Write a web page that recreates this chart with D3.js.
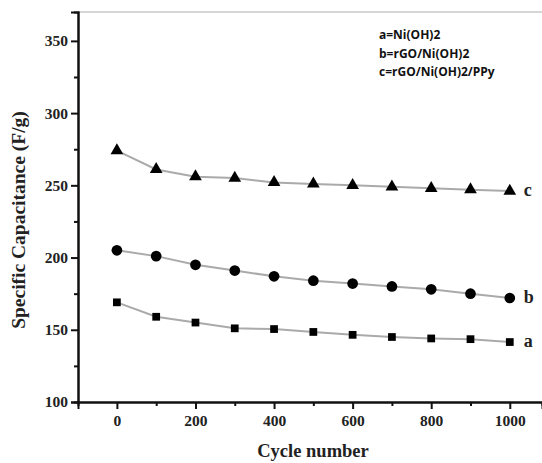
<!DOCTYPE html>
<html>
<head>
<meta charset="utf-8">
<script src="https://cdn.jsdelivr.net/npm/d3@7"></script>
<style>
  body { margin: 0; background: #fff; }
  svg { display: block; }
</style>
</head>
<body>
<div id="graph"></div>
<script>
// data
const cycles = [0, 100, 200, 300, 400, 500, 600, 700, 800, 900, 1000]
const seriesA = [169, 159, 155, 151, 150.5, 148.5, 146.5, 145, 144, 143.5, 141.5]
const seriesB = [205, 201, 195, 191, 187, 184, 182, 180, 178, 175, 172]
const seriesC = [274, 261, 256, 255, 252, 251, 250, 249, 248, 247, 246]
const seriesNames = ["a", "b", "c"]
const legendLines = ["a=Ni(OH)2", "b=rGO/Ni(OH)2", "c=rGO/Ni(OH)2/PPy"]
const xTicks = [0, 200, 400, 600, 800, 1000]
const yTicks = [100, 150, 200, 250, 300, 350]

const width = 542, height = 463
const margin = { left: 78, right: 0, top: 12, bottom: 61 }

const svg = d3.select("#graph").append("svg")
  .attr("width", width)
  .attr("height", height)

const x = d3.scaleLinear().domain([-99, 1082]).range([margin.left, width - margin.right])
const y = d3.scaleLinear().domain([100, 370]).range([height - margin.bottom, margin.top])

const serif = "'Liberation Serif', 'DejaVu Serif', serif"

// top frame line
svg.append("line")
  .attr("x1", margin.left).attr("x2", width)
  .attr("y1", margin.top).attr("y2", margin.top)
  .attr("stroke", "#c8c8c8").attr("stroke-width", 1.5)

// axes, minor ticks first then major
const xAxisG = svg.append("g")
  .attr("transform", `translate(0,${height - margin.bottom})`)
xAxisG.call(d3.axisBottom(x).tickValues(d3.range(100, 1001, 200)).tickSize(4).tickFormat(""))
xAxisG.append("g").call(d3.axisBottom(x).tickValues(xTicks).tickSize(7).tickPadding(6).tickFormat(d3.format("d")))

const yAxisG = svg.append("g")
  .attr("transform", `translate(${margin.left},0)`)
yAxisG.call(d3.axisLeft(y).tickValues(d3.range(125, 351, 50)).tickSize(4).tickFormat(""))
yAxisG.append("g").call(d3.axisLeft(y).tickValues(yTicks).tickSize(7).tickPadding(3))

svg.selectAll(".domain").attr("stroke", "#111").attr("stroke-width", 2)
svg.selectAll(".tick line").attr("stroke", "#111").attr("stroke-width", 2)
svg.selectAll(".tick text")
  .attr("font-family", serif).attr("font-weight", "bold").attr("font-size", 15.5).attr("fill", "#222")

// axis titles
svg.append("text")
  .attr("x", 313).attr("y", 457)
  .attr("text-anchor", "middle")
  .attr("font-family", serif).attr("font-weight", "bold").attr("font-size", 18.5).attr("fill", "#222")
  .text("Cycle number")

svg.append("text")
  .attr("transform", `translate(21,${(margin.top + height - margin.bottom) / 2 + 13}) rotate(-90)`)
  .attr("text-anchor", "middle")
  .attr("dominant-baseline", "middle")
  .attr("font-family", serif).attr("font-weight", "bold").attr("font-size", 19.5).attr("fill", "#222")
  .text("Specific Capacitance (F/g)")

// series
const series = [
  { name: "a", values: seriesA, symbol: d3.symbolSquare, size: 60 },
  { name: "b", values: seriesB, symbol: d3.symbolCircle, size: 90 },
  { name: "c", values: seriesC, symbol: d3.symbolTriangle, size: 70 }
]

const line = d3.line().x((d, i) => x(cycles[i])).y(d => y(d))

const plot = svg.append("g")
series.forEach(s => {
  plot.append("path")
    .datum(s.values)
    .attr("d", line)
    .attr("fill", "none")
    .attr("stroke", "#aaa")
    .attr("stroke-width", 2)

  plot.selectAll(null)
    .data(s.values)
    .join("path")
      .attr("transform", (d, i) => `translate(${x(cycles[i])},${y(d)})`)
      .attr("d", d3.symbol().type(s.symbol).size(s.size))
      .attr("fill", "#000")

  plot.append("text")
    .attr("x", x(cycles[cycles.length - 1]) + 14)
    .attr("y", y(s.values[s.values.length - 1]) + 5)
    .attr("font-family", serif).attr("font-weight", "bold").attr("font-size", 18).attr("fill", "#222")
    .text(s.name)
})

// legend text
svg.append("g").selectAll("text")
  .data(legendLines)
  .join("text")
    .attr("x", 379)
    .attr("y", (d, i) => 39 + i * 18.5)
    .attr("font-family", "'Open Sans', 'Noto Sans', sans-serif")
    .attr("font-weight", "bold")
    .attr("font-size", 12)
    .attr("fill", "#111")
    .text(d => d)
</script>
</body>
</html>
